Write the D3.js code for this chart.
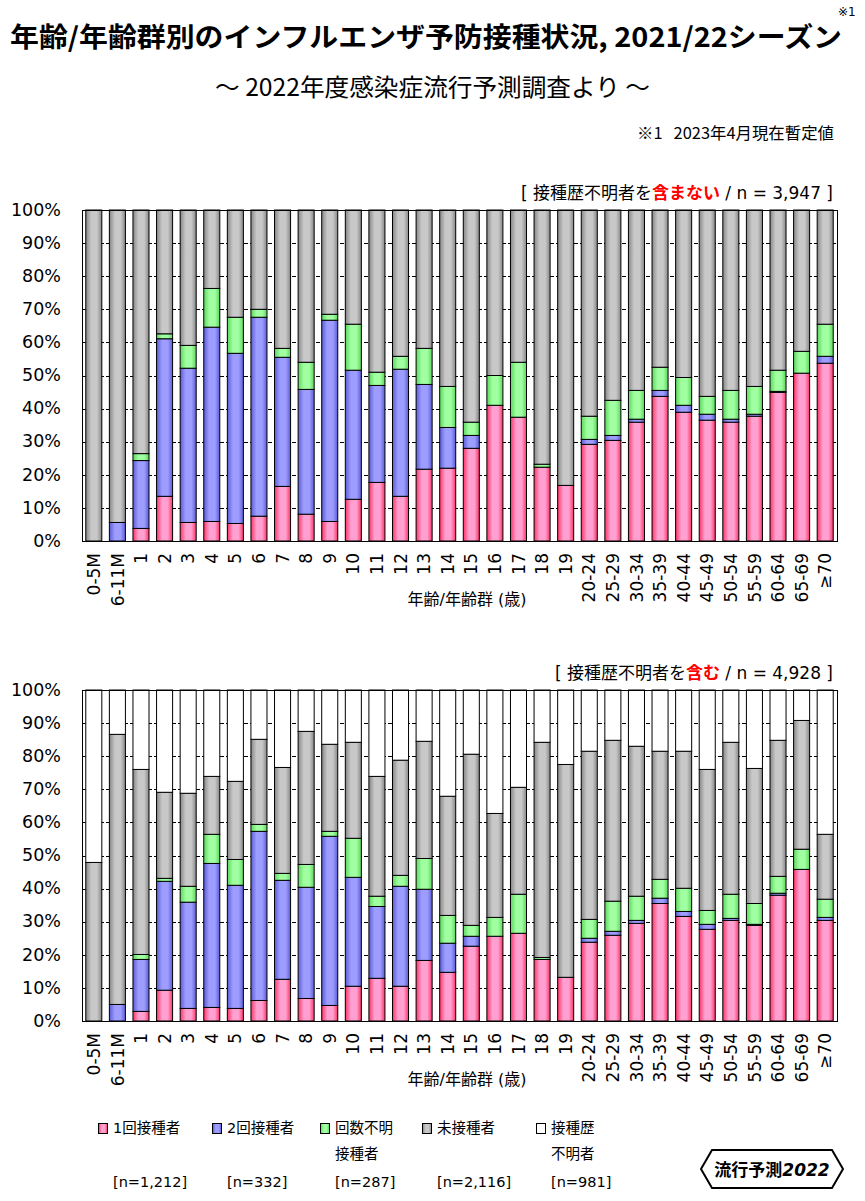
<!DOCTYPE html>
<html>
<head>
<meta charset="utf-8">
<script src="https://cdn.jsdelivr.net/npm/d3@7"></script>
<style>
  body { margin: 0; background: #fff; }
  svg { display: block; }
</style>
</head>
<body>
<div id="chart"></div>
<script>
// Age groups (x categories)
const ages = ["0-5M", "6-11M", "1", "2", "3", "4", "5", "6", "7", "8", "9", "10", "11", "12", "13",
  "14", "15", "16", "17", "18", "19", "20-24", "25-29", "30-34", "35-39", "40-44", "45-49",
  "50-54", "55-59", "60-64", "65-69", "≥70"];
const yTicks = [0, 10, 20, 30, 40, 50, 60, 70, 80, 90, 100];

// Top panel: unknown vaccination history excluded (%)
const exclOnce = [0, 0, 3.8, 13.5, 5.6, 5.9, 5.3, 7.5, 16.5, 8.1, 5.9, 12.6, 17.7, 13.5, 21.7,
  22.0, 28.0, 41.0, 37.4, 22.3, 16.8, 29.2, 30.4, 35.9, 43.7, 38.9, 36.5, 35.9, 37.7, 44.9, 50.7, 53.7];
const exclTwice = [0, 5.6, 20.5, 47.6, 46.6, 58.7, 51.4, 60.1, 39.0, 37.7, 60.8, 39.0, 29.3, 38.4, 25.6,
  12.3, 3.9, 0, 0, 0, 0, 1.5, 1.5, 0.9, 1.8, 2.1, 1.8, 0.9, 0.6, 0.3, 0, 2.1];
const exclUnknownCount = [0, 0, 2.1, 1.5, 6.9, 11.7, 10.9, 2.4, 2.7, 8.2, 1.8, 13.9, 4.0, 3.9, 10.9,
  12.4, 4.0, 9.0, 16.6, 0.9, 0, 7.0, 10.6, 8.7, 7.0, 8.4, 5.4, 8.7, 8.4, 6.4, 6.6, 9.7];
const exclNone = [100, 94.4, 73.6, 37.4, 40.9, 23.7, 32.4, 30.0, 41.8, 46.0, 31.5, 34.5, 49.0, 44.2, 41.8,
  53.3, 64.1, 50.0, 46.0, 76.8, 83.2, 62.3, 57.5, 54.5, 47.5, 50.6, 56.3, 54.5, 53.3, 48.4, 42.7, 34.5];

// Bottom panel: unknown vaccination history included (%)
const inclOnce = [0, 0, 2.9, 9.3, 3.8, 4.1, 3.8, 6.2, 12.6, 6.8, 4.7, 10.5, 12.9, 10.5, 18.3,
  14.7, 22.6, 25.6, 26.5, 18.6, 13.2, 23.8, 25.9, 29.5, 35.5, 31.6, 27.7, 30.4, 28.9, 38.0, 45.8, 30.4];
const inclTwice = [0, 5.0, 15.7, 32.9, 32.1, 43.5, 37.2, 51.1, 29.9, 33.6, 51.1, 32.9, 21.7, 30.2, 21.5,
  8.8, 3.0, 0, 0, 0, 0, 1.2, 1.2, 0.9, 1.6, 1.5, 1.5, 0.6, 0.3, 0.6, 0, 0.9];
const inclUnknownCount = [0, 0, 1.5, 0.9, 4.8, 8.8, 7.8, 2.1, 2.1, 6.9, 1.5, 11.8, 3.1, 3.3, 9.3,
  8.4, 3.3, 5.7, 11.8, 0.6, 0, 5.7, 9.1, 7.3, 5.7, 7.0, 4.2, 7.3, 6.3, 5.1, 6.1, 5.5];
const inclNone = [47.9, 81.6, 55.9, 26.0, 28.1, 17.5, 23.6, 25.7, 32.0, 40.2, 26.3, 29.0, 36.2, 34.8, 35.4,
  36.0, 51.7, 31.4, 32.3, 65.0, 64.3, 50.8, 48.6, 45.3, 38.7, 41.4, 42.6, 45.9, 40.8, 41.1, 38.9, 19.6];
const inclUnknownHist = [52.1, 13.4, 24.0, 30.9, 31.2, 26.1, 27.6, 14.9, 23.4, 12.5, 16.4, 15.8, 26.1, 21.2, 15.5,
  32.1, 19.4, 37.3, 29.4, 15.8, 22.5, 18.5, 15.2, 17.0, 18.5, 18.5, 24.0, 15.8, 23.7, 15.2, 9.2, 43.6];

// Legend
const legendKeys = ["once", "twice", "unknownCount", "none", "unknownHist"];
const legendLabels = [["1回接種者"], ["2回接種者"], ["回数不明", "接種者"], ["未接種者"], ["接種歴", "不明者"]];
const legendCounts = ["[n=1,212]", "[n=332]", "[n=287]", "[n=2,116]", "[n=981]"];

const W = 865, H = 1201;
const plotLeft = 82, plotRight = 837;
const latin = "'DejaVu Sans', 'Noto Sans CJK JP', sans-serif";
const jp = "'Noto Sans CJK JP', sans-serif";

const palette = {
  once: ["#ff3366", "#ffa0d0"],
  twice: ["#5c5cd6", "#9d9dff"],
  unknownCount: ["#5cd65c", "#a0ffa0"],
  none: ["#878787", "#c8c8c8"],
  unknownHist: ["#ffffff", "#ffffff"],
};

const svg = d3.select("#chart").append("svg")
  .attr("width", W)
  .attr("height", H)
  .style("background", "#fff");

const defs = svg.append("defs");
Object.entries(palette).forEach(([key, [dark, light]]) => {
  const gr = defs.append("linearGradient")
    .attr("id", "grad-" + key)
    .attr("x1", 0).attr("x2", 1).attr("y1", 0).attr("y2", 0);
  gr.append("stop").attr("offset", "0%").attr("stop-color", dark);
  gr.append("stop").attr("offset", "35%").attr("stop-color", light);
  gr.append("stop").attr("offset", "70%").attr("stop-color", light);
  gr.append("stop").attr("offset", "100%").attr("stop-color", dark);
});

// Titles
svg.append("text")
  .attr("x", 10).attr("y", 47)
  .attr("font-family", jp).attr("font-weight", "bold").attr("font-size", 27)
  .attr("textLength", 832).attr("lengthAdjust", "spacingAndGlyphs")
  .text("年齢/年齢群別のインフルエンザ予防接種状況, 2021/22シーズン");

svg.append("text")
  .attr("x", 838).attr("y", 16)
  .attr("font-family", latin).attr("font-size", 12)
  .text("※1");

svg.append("text")
  .attr("x", 215).attr("y", 96)
  .attr("font-family", jp).attr("font-size", 24)
  .attr("textLength", 435).attr("lengthAdjust", "spacingAndGlyphs")
  .text("〜 2022年度感染症流行予測調査より 〜");

svg.append("text")
  .attr("x", 637).attr("y", 139)
  .attr("font-family", jp).attr("font-size", 16)
  .attr("textLength", 197).attr("lengthAdjust", "spacingAndGlyphs")
  .text("※1\u00a0\u00a0 2023年4月現在暫定値");

function drawPanel(cfg) {
  const x = d3.scaleBand().domain(ages).range([plotLeft, plotRight])
    .paddingInner(0.32).paddingOuter(0.16);
  const y = d3.scaleLinear().domain([0, 100]).range([cfg.bottom, cfg.top]);

  const rows = ages.map((age, i) => {
    const r = { age };
    cfg.keys.forEach((k) => (r[k] = cfg.series[k][i]));
    return r;
  });
  const stacked = d3.stack().keys(cfg.keys)(rows);

  const g = svg.append("g");

  // dashed grid lines
  g.append("g")
    .selectAll("line")
    .data(yTicks.filter((t) => t > 0 && t < 100))
    .join("line")
    .attr("x1", plotLeft).attr("x2", plotRight)
    .attr("y1", (d) => Math.round(y(d)) + 0.5)
    .attr("y2", (d) => Math.round(y(d)) + 0.5)
    .attr("stroke", "#000")
    .attr("stroke-dasharray", "4,2");

  // stacked bars
  g.append("g")
    .selectAll("g")
    .data(stacked)
    .join("g")
    .attr("fill", (d) => `url(#grad-${d.key})`)
    .selectAll("rect")
    .data((d) => d.filter((s) => s[1] - s[0] > 0))
    .join("rect")
    .attr("x", (d) => x(d.data.age))
    .attr("width", x.bandwidth())
    .attr("y", (d) => y(d[1]))
    .attr("height", (d) => y(d[0]) - y(d[1]))
    .attr("stroke", "#000")
    .attr("stroke-width", 1);

  // plot frame
  g.append("rect")
    .attr("x", plotLeft + 0.5).attr("y", cfg.top + 0.5)
    .attr("width", plotRight - plotLeft).attr("height", cfg.bottom - cfg.top)
    .attr("fill", "none")
    .attr("stroke", "#000");

  // y axis labels
  const yAxis = g.append("g")
    .attr("transform", `translate(${plotLeft},0)`)
    .call(d3.axisLeft(y).tickValues(yTicks).tickFormat((d) => d + "%").tickSize(0).tickPadding(21));
  yAxis.select(".domain").remove();
  yAxis.selectAll("text")
    .attr("font-family", latin).attr("font-size", 17.5).attr("fill", "#000")
    .attr("dy", "0.3em");

  // x axis labels (rotated)
  const xAxis = g.append("g")
    .attr("transform", `translate(0,${cfg.bottom})`)
    .call(d3.axisBottom(x).tickSize(0));
  xAxis.select(".domain").remove();
  xAxis.selectAll("text")
    .attr("font-family", latin).attr("font-size", 17).attr("fill", "#000")
    .attr("transform", "rotate(-90)")
    .attr("text-anchor", "end")
    .attr("x", -12).attr("y", 0).attr("dy", "0.36em");

  g.append("text")
    .attr("x", 467).attr("y", cfg.bottom + 64)
    .attr("text-anchor", "middle")
    .attr("font-family", latin).attr("font-size", 16)
    .text("年齢/年齢群 (歳)");

  // header note
  const head = g.append("text")
    .attr("x", 833).attr("y", cfg.top - 11)
    .attr("text-anchor", "end")
    .attr("font-family", latin).attr("font-size", 17);
  head.append("tspan").text("[ 接種歴不明者を");
  head.append("tspan").attr("fill", "#ff0000").attr("font-weight", "bold").text(cfg.emph);
  head.append("tspan").text(` / n = ${cfg.n} ]`);
}

drawPanel({
  top: 210, bottom: 541,
  keys: ["once", "twice", "unknownCount", "none"],
  series: { once: exclOnce, twice: exclTwice, unknownCount: exclUnknownCount, none: exclNone },
  emph: "含まない", n: "3,947",
});

drawPanel({
  top: 690, bottom: 1021,
  keys: ["once", "twice", "unknownCount", "none", "unknownHist"],
  series: { once: inclOnce, twice: inclTwice, unknownCount: inclUnknownCount, none: inclNone, unknownHist: inclUnknownHist },
  emph: "含む", n: "4,928",
});

// Legend
const legendX = [113, 227, 335, 437, 551];
const legend = svg.append("g").attr("font-family", latin).attr("font-size", 14.5);
legendKeys.forEach((key, i) => {
  const lx = legendX[i];
  legend.append("rect")
    .attr("x", lx - 14.5).attr("y", 1123.5)
    .attr("width", 9).attr("height", 10)
    .attr("fill", `url(#grad-${key})`)
    .attr("stroke", "#000");
  legendLabels[i].forEach((line, j) => {
    legend.append("text").attr("x", lx).attr("y", 1133 + j * 26).text(line);
  });
  legend.append("text").attr("x", lx).attr("y", 1187).text(legendCounts[i]);
});

// Logo badge
const logo = svg.append("g");
logo.append("path")
  .attr("d", "M701,1169 L712,1150 L832,1150 L843,1169 L832,1188 L712,1188 Z")
  .attr("fill", "#fff")
  .attr("stroke", "#000")
  .attr("stroke-width", 2);
const logoText = logo.append("text")
  .attr("x", 772).attr("y", 1176)
  .attr("text-anchor", "middle")
  .attr("font-family", jp).attr("font-weight", "bold").attr("font-size", 17);
logoText.append("tspan").text("流行予測");
logoText.append("tspan").attr("font-style", "italic").attr("font-family", latin).text("2022");
</script>
</body>
</html>
